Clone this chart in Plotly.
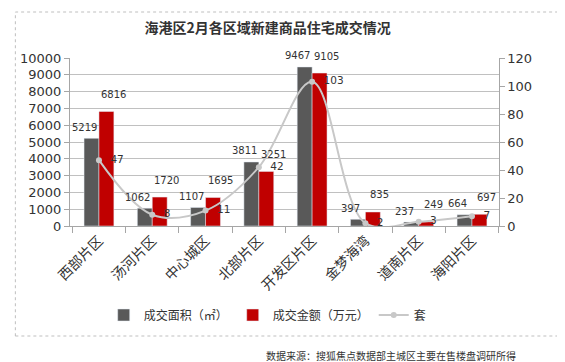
import plotly.graph_objects as go
from plotly.subplots import make_subplots

categories = ["西部片区", "汤河片区", "中心城区", "北部片区", "开发区片区", "金梦海湾", "道南片区", "海阳片区"]
area = [5219, 1062, 1107, 3811, 9467, 397, 237, 664]
amount = [6816, 1720, 1695, 3251, 9105, 835, 249, 697]
units = [47, 8, 11, 42, 103, 2, 3, 7]

W, H = 565, 362
L, R, T, B = 59, 47, 50, 144
pw, ph = W - L - R, H - T - B

def px(x):
    return (x - L) / pw

def py(y):
    return (H - B - y) / ph

cjk = "Noto Sans CJK SC, DejaVu Sans, sans-serif"
num = "DejaVu Sans, sans-serif"

BARGAP = 0.44
half = (1 - BARGAP) / 4  # center offset of each bar in a group of two

fig = make_subplots(specs=[[{"secondary_y": True}]])
fig.add_trace(go.Bar(x=categories, y=area, name="成交面积（㎡）", marker_color="#595959"), secondary_y=False)
fig.add_trace(go.Bar(x=categories, y=amount, name="成交金额（万元）", marker_color="#C00000"), secondary_y=False)
fig.add_trace(go.Scatter(x=categories, y=units, name="套", mode="lines+markers+text",
                         line=dict(color="#C8C8C8", width=2, shape="spline", smoothing=1.0),
                         marker=dict(size=6, color="#C8C8C8"),
                         text=["  " + str(v) for v in units], textposition="middle right",
                         textfont=dict(size=10.5, family=num, color="#333"), cliponaxis=False), secondary_y=True)

for i, (a, m) in enumerate(zip(area, amount)):
    fig.add_annotation(x=i - half, y=a, xref="x", yref="y", text=str(a), showarrow=False,
                       xshift=-7, yshift=11, font=dict(size=10, family=num, color="#333"))
    fig.add_annotation(x=i + half, y=m, xref="x", yref="y", text=str(m), showarrow=False,
                       xshift=7, yshift=17, font=dict(size=10, family=num, color="#333"))

fig.update_layout(
    width=W, height=H, margin=dict(l=L, r=R, t=T, b=B),
    paper_bgcolor="white", plot_bgcolor="white",
    barmode="group", bargap=BARGAP, bargroupgap=0,
    title=dict(text="<b>海港区2月各区域新建商品住宅成交情况</b>", x=px(258), xref="paper", xanchor="center",
               y=1 - 20 / H, yanchor="middle", font=dict(size=14, family=cjk, color="#333")),
    legend=dict(orientation="h", x=px(258), xanchor="center", y=py(307), yanchor="middle",
                font=dict(size=12, family=cjk, color="#333"), traceorder="normal",
                itemwidth=30, tracegroupgap=0),
    font=dict(family=cjk),
)
fig.update_xaxes(tickangle=-45, tickfont=dict(size=14, family=cjk, color="#333"),
                 showline=True, linecolor="#A6A6A6", ticks="outside", tickson="boundaries",
                 ticklen=6, tickcolor="#A6A6A6", showgrid=False)
fig.update_yaxes(range=[0, 10000], dtick=1000, tickformat="d", showgrid=True, gridcolor="#C0C0C0", gridwidth=1,
                 showline=True, linecolor="#A6A6A6", ticks="outside", ticklen=5, tickcolor="#A6A6A6",
                 tickfont=dict(size=13, family=num, color="#333"), zeroline=False, secondary_y=False)
fig.update_yaxes(range=[0, 120], dtick=20, showgrid=False,
                 showline=True, linecolor="#A6A6A6", ticks="outside", ticklen=5, tickcolor="#A6A6A6",
                 tickfont=dict(size=13, family=num, color="#333"), zeroline=False, secondary_y=True)

fig.add_shape(type="rect", xref="paper", yref="paper", x0=px(4), x1=px(558), y0=py(328), y1=py(4),
              line=dict(color="#BFBFBF", width=1, dash="dot"), layer="below")
fig.add_annotation(text="数据来源：搜狐焦点数据部主城区主要在售楼盘调研所得", xref="paper", yref="paper",
                   x=px(510), y=py(347), xanchor="right", yanchor="middle", showarrow=False,
                   font=dict(size=10, family=cjk, color="#333"))

fig.write_html("out.html")
